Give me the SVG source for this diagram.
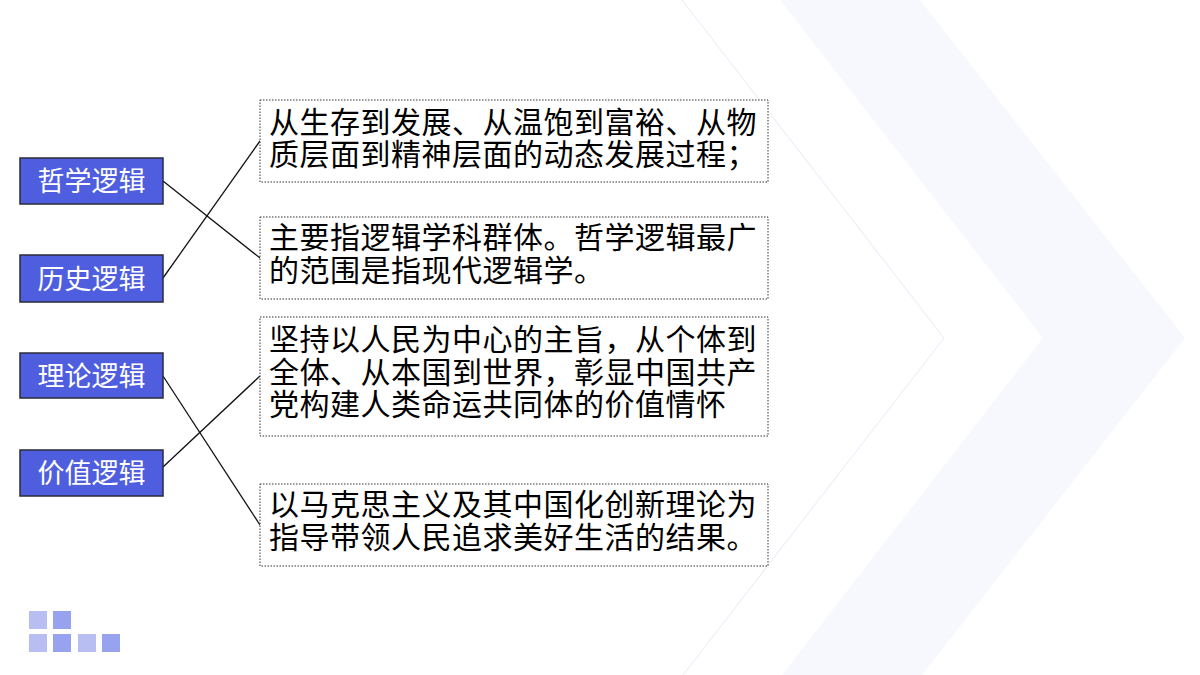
<svg xmlns="http://www.w3.org/2000/svg" width="1200" height="675" viewBox="0 0 1200 675">
  <style>
    .lbl rect { fill: #4E5EDE; stroke: #2B2B3A; stroke-width: 1.5; }
    .lbl text { fill: #FFFFFF; font-family: "Noto Sans CJK SC", "Noto Sans", sans-serif; font-size: 27px; text-anchor: middle; }
    .desc rect { fill: #FFFFFF; stroke: #333333; stroke-width: 1; stroke-dasharray: 1.5 1.5; }
    .desc text { fill: #000000; font-family: "Noto Sans CJK SC", "Noto Sans", sans-serif; font-size: 30px; letter-spacing: 0.5px; }
    .conn line { stroke: #111111; stroke-width: 1.3; }
    .sqA { fill: #B8BEF2; }
    .sqB { fill: #97A3EE; }
  </style>
  <rect x="0" y="0" width="1200" height="675" fill="#FFFFFF"/>
  <g id="background">
    <polygon points="780,0 920,0 1185,338 922,675 782,675 1043,338" fill="#F7F8FD"/>
    <polyline points="682,0 944,338 683,675" fill="none" stroke="#EFEFFA" stroke-width="1.2"/>
  </g>
  <g id="decor-squares">
    <rect class="sqA" x="29" y="611" width="18" height="18"/>
    <rect class="sqB" x="53" y="611" width="18" height="18"/>
    <rect class="sqA" x="29" y="634" width="18" height="18"/>
    <rect class="sqB" x="53" y="634" width="18" height="18"/>
    <rect class="sqA" x="78" y="634" width="18" height="18"/>
    <rect class="sqB" x="102" y="634" width="18" height="18"/>
  </g>
  <g id="connectors" class="conn">
    <line x1="163" y1="181" x2="260" y2="258"/>
    <line x1="163" y1="278" x2="260" y2="141"/>
    <line x1="163" y1="376" x2="260" y2="525"/>
    <line x1="163" y1="467" x2="260" y2="376"/>
  </g>
  <g id="node-philosophy" class="lbl">
    <rect x="20" y="158" width="143" height="46"/>
    <text x="91.5" y="191">哲学逻辑</text>
  </g>
  <g id="node-history" class="lbl">
    <rect x="20" y="255" width="143" height="47"/>
    <text x="91.5" y="289">历史逻辑</text>
  </g>
  <g id="node-theory" class="lbl">
    <rect x="20" y="353" width="143" height="45"/>
    <text x="91.5" y="386">理论逻辑</text>
  </g>
  <g id="node-value" class="lbl">
    <rect x="20" y="450" width="143" height="46"/>
    <text x="91.5" y="483">价值逻辑</text>
  </g>
  <g id="desc-1" class="desc">
    <rect x="260" y="100" width="508" height="82"/>
    <text x="269" y="133">从生存到发展、从温饱到富裕、从物</text>
    <text x="269" y="165">质层面到精神层面的动态发展过程；</text>
  </g>
  <g id="desc-2" class="desc">
    <rect x="260" y="217" width="508" height="82"/>
    <text x="269" y="248">主要指逻辑学科群体。哲学逻辑最广</text>
    <text x="269" y="281">的范围是指现代逻辑学。</text>
  </g>
  <g id="desc-3" class="desc">
    <rect x="260" y="317" width="508" height="119"/>
    <text x="269" y="350">坚持以人民为中心的主旨，从个体到</text>
    <text x="269" y="383">全体、从本国到世界，彰显中国共产</text>
    <text x="269" y="415">党构建人类命运共同体的价值情怀</text>
  </g>
  <g id="desc-4" class="desc">
    <rect x="260" y="484" width="508" height="82"/>
    <text x="269" y="515">以马克思主义及其中国化创新理论为</text>
    <text x="269" y="548">指导带领人民追求美好生活的结果。</text>
  </g>
</svg>
